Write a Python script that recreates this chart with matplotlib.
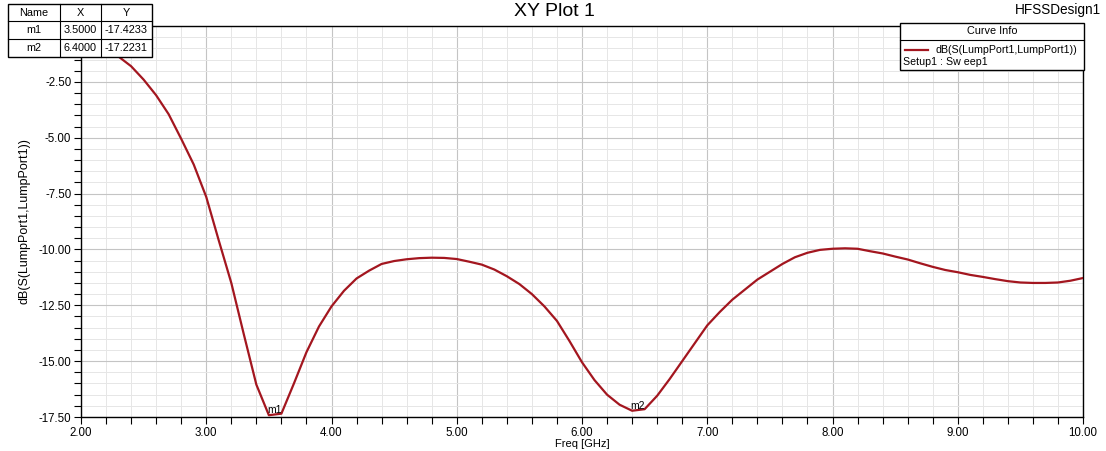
"""HFSS S11 plot: dB(S(LumpPort1,LumpPort1)) over frequency."""

import matplotlib
matplotlib.use("Agg")
import matplotlib.pyplot as plt
from matplotlib.lines import Line2D
from matplotlib.patches import Rectangle
from matplotlib.ticker import MultipleLocator, FuncFormatter

plt.rcParams["font.family"] = ["Liberation Sans", "DejaVu Sans"]

freq_ghz = [2.0, 2.1, 2.2, 2.3, 2.4, 2.5, 2.6, 2.7, 2.8, 2.9,
            3.0, 3.1, 3.2, 3.3, 3.4, 3.5, 3.6, 3.7, 3.8, 3.9,
            4.0, 4.1, 4.2, 4.3, 4.4, 4.5, 4.6, 4.7, 4.8, 4.9,
            5.0, 5.1, 5.2, 5.3, 5.4, 5.5, 5.6, 5.7, 5.8, 5.9,
            6.0, 6.1, 6.2, 6.3, 6.4, 6.5, 6.6, 6.7, 6.8, 6.9,
            7.0, 7.1, 7.2, 7.3, 7.4, 7.5, 7.6, 7.7, 7.8, 7.9,
            8.0, 8.1, 8.2, 8.3, 8.4, 8.5, 8.6, 8.7, 8.8, 8.9,
            9.0, 9.1, 9.2, 9.3, 9.4, 9.5, 9.6, 9.7, 9.8, 9.9, 10.0]
s11_db = [-0.45, -0.70, -1.00, -1.37, -1.80, -2.40, -3.10, -3.95, -5.05, -6.20,
          -7.65, -9.60, -11.50, -13.80, -16.05, -17.42, -17.35, -16.00, -14.60, -13.45,
          -12.55, -11.85, -11.30, -10.95, -10.65, -10.52, -10.44, -10.39, -10.37, -10.38,
          -10.43, -10.55, -10.68, -10.90, -11.20, -11.55, -12.00, -12.55, -13.20, -14.10,
          -15.05, -15.85, -16.50, -16.95, -17.22, -17.15, -16.55, -15.80, -15.00, -14.20,
          -13.40, -12.80, -12.25, -11.80, -11.35, -11.00, -10.65, -10.35, -10.15, -10.02,
          -9.97, -9.95, -9.97, -10.08, -10.18, -10.32, -10.45, -10.62, -10.78, -10.92,
          -11.02, -11.14, -11.23, -11.33, -11.42, -11.48, -11.50, -11.50, -11.48, -11.40,
          -11.28]

marker_names = ["m1", "m2"]
marker_x = [3.5000, 6.4000]
marker_y = [-17.4233, -17.2231]

W, H = 1106, 451
RED = "#a3161f"


def px(x, y):
    """pixel coords (top-left origin) -> figure fraction"""
    return x / W, 1 - y / H


def main() -> None:
    fig = plt.figure(figsize=(W / 100, H / 100), dpi=100)
    l, t = px(81, 26)
    r, b = px(1083, 417)
    ax = fig.add_axes([l, b, r - l, t - b])

    ax.plot(freq_ghz, s11_db, color=RED, lw=1.6, zorder=3)
    for name, mx, my in zip(marker_names, marker_x, marker_y):
        ax.annotate(name, (mx, my), xytext=(-1, 1.5), textcoords="offset points",
                    fontsize=7.5, color="black", zorder=4)

    ax.set_xlim(2.0, 10.0)
    ax.set_ylim(-17.5, 0.0)
    ax.xaxis.set_major_locator(MultipleLocator(1.0))
    ax.xaxis.set_minor_locator(MultipleLocator(0.2))
    ax.yaxis.set_major_locator(MultipleLocator(2.5))
    ax.yaxis.set_minor_locator(MultipleLocator(0.5))
    ax.xaxis.set_major_formatter(FuncFormatter(lambda v, p: f"{v:.2f}"))
    # the 0.00 label sits under the marker table in HFSS, so leave it out
    ax.yaxis.set_major_formatter(FuncFormatter(lambda v, p: "" if v > -0.1 else f"{v:.2f}"))
    ax.tick_params(which="both", direction="out", length=5, width=0.8,
                   labelsize=8.3, pad=2)
    ax.grid(which="major", color="#c4c4c4", lw=0.8)
    ax.grid(which="minor", color="#e6e6e6", lw=0.7)
    ax.set_axisbelow(True)
    for sp in ax.spines.values():
        sp.set_linewidth(1.0)
    ax.set_xlabel("Freq [GHz]", fontsize=8, labelpad=0)
    ax.set_ylabel("dB(S(LumpPort1,LumpPort1))", fontsize=9, labelpad=6)

    fig.text(*px(554, 11), "XY Plot 1", fontsize=14, ha="center", va="center")
    fig.text(*px(1101, 10), "HFSSDesign1", fontsize=9.8, ha="right", va="center")

    # marker table
    col_edges = [8, 60, 101, 152]
    row_edges = [4, 21, 39, 57]
    x0, y1 = px(col_edges[0], row_edges[-1])
    x1, y0 = px(col_edges[-1], row_edges[0])
    fig.patches.append(Rectangle((x0, y1), x1 - x0, y0 - y1, transform=fig.transFigure,
                                 facecolor="white", edgecolor="black", lw=1.0, zorder=5))
    for cx in col_edges[1:-1]:
        fig.lines.append(Line2D([cx / W] * 2, [y1, y0], transform=fig.transFigure,
                                color="black", lw=0.8, zorder=6))
    for ry in row_edges[1:-1]:
        fig.lines.append(Line2D([x0, x1], [1 - ry / H] * 2, transform=fig.transFigure,
                                color="black", lw=0.8, zorder=6))
    rows = [["Name", "X", "Y"]]
    rows += [[n, f"{mx:.4f}", f"{my:.4f}"] for n, mx, my in zip(marker_names, marker_x, marker_y)]
    for ri, row in enumerate(rows):
        cy = (row_edges[ri] + row_edges[ri + 1]) / 2
        for ci, txt in enumerate(row):
            cx = (col_edges[ci] + col_edges[ci + 1]) / 2
            fig.text(*px(cx, cy), txt, fontsize=7.8, ha="center", va="center", zorder=7)

    # curve info box
    bx0, bx1, by0, by1, hy = 900, 1084, 23, 70, 40
    fx0, fy1 = px(bx0, by1)
    fx1, fy0 = px(bx1, by0)
    fig.patches.append(Rectangle((fx0, fy1), fx1 - fx0, fy0 - fy1, transform=fig.transFigure,
                                 facecolor="white", edgecolor="black", lw=1.0, zorder=5))
    fig.lines.append(Line2D([fx0, fx1], [1 - hy / H] * 2, transform=fig.transFigure,
                            color="black", lw=0.8, zorder=6))
    fig.text(*px((bx0 + bx1) / 2, 31), "Curve Info", fontsize=7.8, ha="center", va="center", zorder=7)
    fig.lines.append(Line2D([905 / W, 928 / W], [1 - 50 / H] * 2, transform=fig.transFigure,
                            color=RED, lw=1.6, zorder=6))
    fig.text(*px(935, 50), "dB(S(LumpPort1,LumpPort1))", fontsize=7.7, ha="left", va="center", zorder=7)
    fig.text(*px(903, 62), "Setup1 : Sw eep1", fontsize=7.7, ha="left", va="center", zorder=7)

    fig.savefig("out.png", dpi=100)


if __name__ == "__main__":
    main()
